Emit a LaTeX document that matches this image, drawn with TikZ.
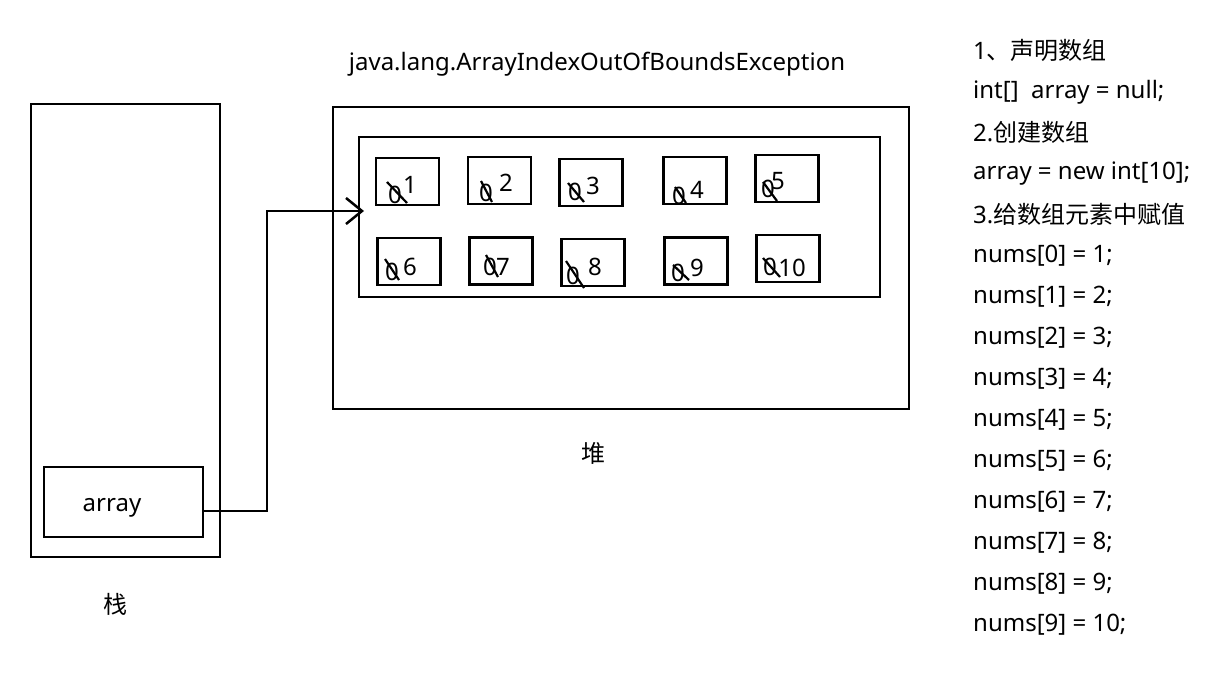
\documentclass[tikz,border=0pt]{standalone}
\usepackage{fontspec}
\setmainfont{Noto Sans}
\newfontfamily\cjk{Noto Sans CJK SC}
\usetikzlibrary{arrows.meta}
\begin{document}
\begin{tikzpicture}[x=1pt,y=-1pt,
  box/.style={draw,line width=2.5pt},
  cell/.style={draw,line width=2.8pt,minimum width=63pt,minimum height=47pt,inner sep=0pt},
  txt/.style={font=\fontsize{24}{28}\selectfont,inner sep=0pt},
  code/.style={font=\fontsize{24}{28}\selectfont,inner sep=0pt,anchor=west},
  zero/.style={font=\fontsize{24}{28}\selectfont,inner sep=0pt},
  strike/.style={line width=2.2pt},
  conn/.style={line width=2.5pt,-{Straight Barb[length=16pt,width=26pt,line width=2.5pt]}}]
\useasboundingbox[fill=white] (0,0) rectangle (1220,677);
% stack
\node[box,minimum width=189pt,minimum height=453pt,inner sep=0pt] (stack) at (125.5,330.5) {};
\node[box,minimum width=159pt,minimum height=70pt,inner sep=0pt] (arr) at (123.5,502) {};
\node[txt] (arrtxt) at (112,508) {array};
\node[txt] (zhan) at (115,604) {\cjk 栈};
% heap
\node[box,minimum width=576pt,minimum height=302pt,inner sep=0pt] (heap) at (621,258) {};
\node[box,minimum width=521pt,minimum height=160pt,inner sep=0pt] (inner) at (619.5,217) {};
\node[txt] (dui) at (593,453) {\cjk 堆};
\node[txt] (title) at (597,64) {java.lang.ArrayIndexOutOfBoundsException};
% cells
\node[cell] (c1) at (407.5,181.5) {};
\node[cell] (c2) at (499.5,180.5) {};
\node[cell] (c3) at (591,182.5) {};
\node[cell] (c4) at (695,180.5) {};
\node[cell] (c5) at (787,178.5) {};
\node[cell] (c6) at (409,261.5) {};
\node[cell] (c7) at (501,261) {};
\node[cell] (c8) at (593,262.5) {};
\node[cell] (c9) at (696,261) {};
\node[cell] (c10) at (788,258.5) {};
% zeros and values
\node[zero] (z1) at (395,195) {0}; \node[txt] (v1) at (410,185) {1};
\node[zero] (z2) at (486,193) {0}; \node[txt] (v2) at (506,183) {2};
\node[zero] (z3) at (575,192) {0}; \node[txt] (v3) at (593,186) {3};
\node[zero] (z4) at (679,196) {0}; \node[txt] (v4) at (697,190) {4};
\node[zero] (z5) at (768,189) {0}; \node[txt] (v5) at (778,181) {5};
\node[zero] (z6) at (392,272) {0}; \node[txt] (v6) at (410,267) {6};
\node[zero] (z7) at (490,267) {0}; \node[txt] (v7) at (503,267) {7};
\node[zero] (z8) at (573,276) {0}; \node[txt] (v8) at (595,267) {8};
\node[zero] (z9) at (678,273) {0}; \node[txt] (v9) at (697,268) {9};
\node[zero] (z10) at (770,267) {0}; \node[txt] (v10) at (792,268) {10};
% strikes
\draw[strike] (387,182) -- (407,203);
\draw[strike] (481,181) -- (492,202);
\draw[strike] (568,183) -- (584,202);
\draw[strike] (675,187) -- (686,203);
\draw[strike] (763,182) -- (777,201);
\draw[strike] (385,259) -- (399,280);
\draw[strike] (486,255) -- (498,277);
\draw[strike] (566,261) -- (584,288);
\draw[strike] (673,265) -- (689,280);
\draw[strike] (763,258) -- (780,277);
% connector
\coordinate (start) at (203,511);
\coordinate (bend) at (267,511);
\coordinate (tip) at (364,211);
\draw[conn] (start) -- (bend) |- (tip);
% code
\node[code] (l1) at (973,50) {1{\cjk 、声明数组}};
\node[code] (l2) at (973,92) {int[]\ \ array = null;};
\node[code] (l3) at (973,132) {2.{\cjk 创建数组}};
\node[code] (l4) at (973,174) {array = new int[10];};
\node[code] (l5) at (973,214) {3.{\cjk 给数组元素中赋值}};
\node[code] (l6) at (973,256) {nums[0] = 1;};
\node[code] (l7) at (973,297) {nums[1] = 2;};
\node[code] (l8) at (973,338) {nums[2] = 3;};
\node[code] (l9) at (973,379) {nums[3] = 4;};
\node[code] (l10) at (973,420) {nums[4] = 5;};
\node[code] (l11) at (973,461) {nums[5] = 6;};
\node[code] (l12) at (973,502) {nums[6] = 7;};
\node[code] (l13) at (973,543) {nums[7] = 8;};
\node[code] (l14) at (973,584) {nums[8] = 9;};
\node[code] (l15) at (973,625) {nums[9] = 10;};
\end{tikzpicture}
\end{document}
